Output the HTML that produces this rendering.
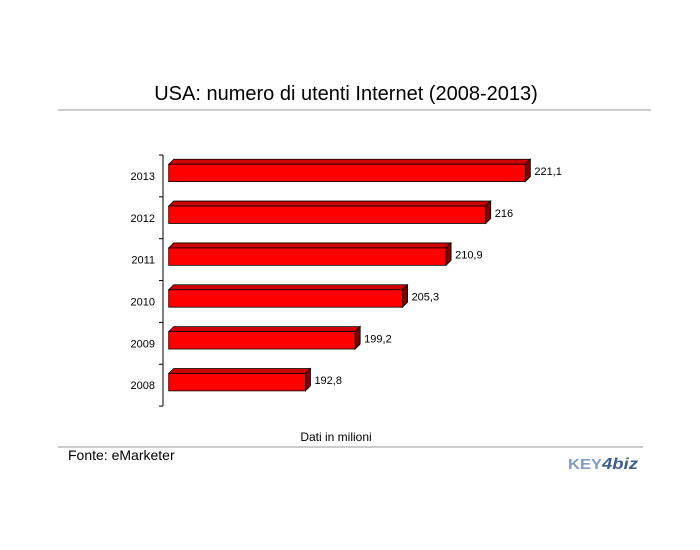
<!DOCTYPE html>
<html><head><meta charset="utf-8"><style>
body{margin:0;background:#fff;font-family:"Liberation Sans",Arial,sans-serif;}
#wrap{position:relative;width:700px;height:550px;overflow:hidden;}
</style></head><body>
<div id="wrap">
<svg id="chart" width="700" height="550">
<text x="346" y="100" font-size="20" text-anchor="middle" font-family="Liberation Sans, sans-serif">USA: numero di utenti Internet (2008-2013)</text>
<line x1="58" y1="110" x2="651" y2="110" stroke="#999"/>
<line x1="58" y1="447" x2="643" y2="447" stroke="#999"/>
<text x="336" y="441" font-size="12" text-anchor="middle" font-family="Liberation Sans, sans-serif">Dati in milioni</text>
<text x="68" y="460" font-size="14" font-family="Liberation Sans, sans-serif">Fonte: eMarketer</text>
<g><text x="568" y="469" font-size="15" font-weight="bold" fill="#7f9dc4" font-family="Liberation Sans, sans-serif" textLength="34" lengthAdjust="spacingAndGlyphs">KEY</text><text x="602" y="469" font-size="16" font-weight="bold" font-style="italic" fill="#3d5f8e" font-family="Liberation Sans, sans-serif" textLength="36" lengthAdjust="spacingAndGlyphs">4biz</text></g>
<g id="plot"></g>
</svg>
</div>
<script>
const categories=["2013","2012","2011","2010","2009","2008"];
const values=[221.1,216,210.9,205.3,199.2,192.8];
const valueLabels=["221,1","216","210,9","205,3","199,2","192,8"];
const xMin=175.2, x0=168.7, pxPerUnit=7.77;
const top0=155, band=41.85;
function xs(v){return x0+(v-xMin)*pxPerUnit;}
function yc(i){return top0+band*(i+0.5);}
const NS="http://www.w3.org/2000/svg";
const g=document.getElementById('plot');
function mk(tag,attrs){const e=document.createElementNS(NS,tag);for(const k in attrs)e.setAttribute(k,attrs[k]);g.appendChild(e);return e;}
const ax=mk('line',{x1:163,y1:top0,x2:163,y2:top0+band*categories.length,stroke:'#000'});


for(let i=0;i<=categories.length;i++){
  const t=mk('line',{x1:159,y1:top0+band*i,x2:163,y2:top0+band*i,stroke:'#000'});
  
  
}
const d=5,h=17.4;
categories.forEach((c,i)=>{
  const y=yc(i)-3-h/2, xr=xs(values[i]);
  const top=mk('polygon',{points:`${x0},${y} ${x0+d},${y-d} ${xr+d},${y-d} ${xr},${y}`,fill:'#cc0000',stroke:'#000','stroke-width':0.8});
  
  
  const side=mk('polygon',{points:`${xr},${y} ${xr+d},${y-d} ${xr+d},${y+h-d} ${xr},${y+h}`,fill:'#800000',stroke:'#000','stroke-width':0.8});
  
  
  const r=mk('rect',{x:x0,y:y,width:xr-x0,height:h,fill:'#ff0000',stroke:'#000','stroke-width':0.8});
  
  
  const l=mk('text',{x:155,y:yc(i)+4,'font-size':11,'text-anchor':'end','font-family':'Liberation Sans, sans-serif'});
  l.textContent=c;
  
  
  const v=mk('text',{x:xr+9,y:yc(i)-1,'font-size':11,'font-family':'Liberation Sans, sans-serif'});
  v.textContent=valueLabels[i];
  
  
});
</script>
</body></html>
